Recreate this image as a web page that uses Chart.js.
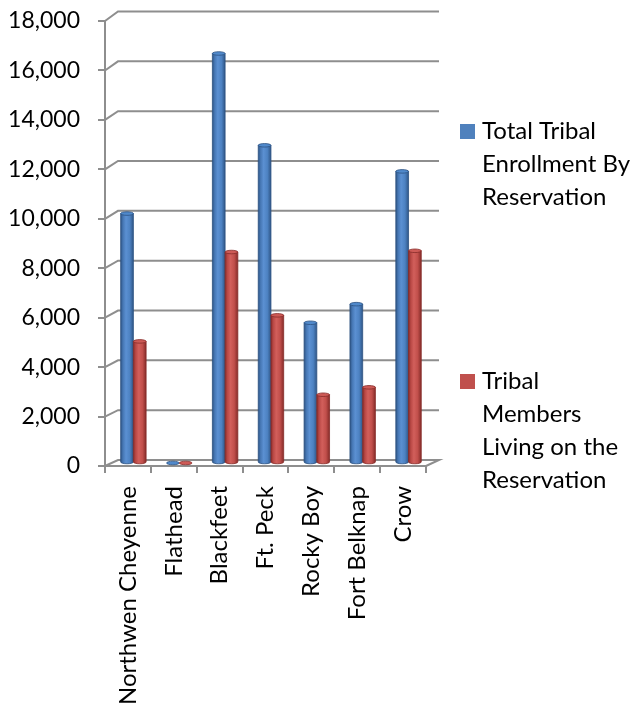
<!DOCTYPE html>
<html>
<head>
<meta charset="utf-8">
<script src="https://cdn.jsdelivr.net/npm/chart.js@4/dist/chart.umd.min.js"></script>
<style>
  html, body { margin: 0; padding: 0; background: #fff; }
  #wrap { width: 635px; height: 709px; }
</style>
</head>
<body>
<div id="wrap"><canvas id="c" width="635" height="709"></canvas></div>
<script>
// Reservations and their enrollment figures
const reservations = ['Northwen Cheyenne', 'Flathead', 'Blackfeet', 'Ft. Peck', 'Rocky Boy', 'Fort Belknap', 'Crow'];
const totalEnrollment = [10050, 0, 16500, 12800, 5650, 6400, 11750];
const livingOnReservation = [4900, 0, 8500, 5950, 2750, 3050, 8550];
const seriesNames = ['Total Tribal Enrollment By Reservation', 'Tribal Members Living on the Reservation'];
const yTicks = [0, 2000, 4000, 6000, 8000, 10000, 12000, 14000, 16000, 18000];

const FONT = 'Lato';
const GRID = '#8e8e8e';
const DEPTH_X = 13;                     // horizontal depth of the 3D box
function backDy(v, max) { return -6 - 3.5 * v / max; }   // vertical depth (slight perspective)

const palette = [
  { base: '#4f81bd', stops: ['#2e5585', '#4677b4', '#5b90d2', '#4d82c2', '#2f5687'], top: '#5089cb', rim: '#2c5282' },
  { base: '#c0504d', stops: ['#8a2d2a', '#b94845', '#d25f5b', '#c14f4b', '#862c29'], top: '#cd5a56', rim: '#862c29' }
];

// back wall, left wall and floor of the 3D plot box
const wallsPlugin = {
  id: 'walls3d',
  beforeDatasetsDraw(chart) {
    const { ctx, chartArea: a, scales: { y } } = chart;
    ctx.save();
    ctx.strokeStyle = GRID;
    ctx.lineWidth = 2;
    ctx.lineJoin = 'miter';
    const f0 = y.getPixelForValue(0);
    const d0 = backDy(0, y.max);
    ctx.beginPath();
    ctx.moveTo(a.left, f0);
    ctx.lineTo(a.left + DEPTH_X, f0 + d0);
    ctx.lineTo(a.right + DEPTH_X, f0 + d0);
    ctx.lineTo(a.right, f0);
    ctx.stroke();
    y.ticks.forEach(t => {
      if (t.value === 0) return;
      const fy = y.getPixelForValue(t.value);
      const by = fy + backDy(t.value, y.max);
      ctx.beginPath();
      ctx.moveTo(a.left, fy);
      ctx.lineTo(a.left + DEPTH_X, by);
      ctx.lineTo(a.right + DEPTH_X, by);
      ctx.stroke();
    });
    ctx.restore();
  }
};

// shaded cylinders in place of the flat bars
const cylinderPlugin = {
  id: 'cylinders',
  beforeDatasetDraw() { return false; },
  afterDatasetsDraw(chart) {
    const { ctx, scales: { y } } = chart;
    ctx.save();
    chart.data.datasets.forEach((ds, i) => {
      const meta = chart.getDatasetMeta(i);
      const pal = palette[i];
      meta.data.forEach((el, j) => {
        const p = el.getProps(['x', 'y', 'base', 'width'], true);
        const v = ds.data[j];
        const ox = DEPTH_X * 0.42;
        const cx = p.x + ox;
        const w = p.width;
        const left = cx - w / 2, right = cx + w / 2;
        const top = p.y + backDy(v, y.max) / 2;
        const base = p.base + backDy(0, y.max) / 2;
        const rx = w / 2, ry = Math.max(1.6, w * 0.14);
        const g = ctx.createLinearGradient(left, 0, right, 0);
        const pos = [0, 0.18, 0.42, 0.72, 1];
        pal.stops.forEach((c, k) => g.addColorStop(pos[k], c));
        // body
        if (base - top > 0.5) {
          ctx.beginPath();
          ctx.moveTo(left, top);
          ctx.lineTo(left, base);
          ctx.ellipse(cx, base, rx, ry, 0, Math.PI, 0, true);
          ctx.lineTo(right, top);
          ctx.closePath();
          ctx.fillStyle = g;
          ctx.fill();
          ctx.strokeStyle = pal.rim;
          ctx.lineWidth = 0.8;
          ctx.stroke();
        }
        // top cap
        ctx.beginPath();
        ctx.ellipse(cx, top, rx, ry, 0, 0, Math.PI * 2);
        ctx.fillStyle = pal.top;
        ctx.fill();
        ctx.strokeStyle = pal.rim;
        ctx.lineWidth = 0.8;
        ctx.stroke();
      });
    });
    ctx.restore();
  }
};

// wrapped legend at the right
const legendPlugin = {
  id: 'wrappedLegend',
  afterDraw(chart) {
    const { ctx, chartArea: a } = chart;
    ctx.save();
    ctx.font = '24px ' + FONT;
    ctx.textBaseline = 'middle';
    ctx.fillStyle = '#000';
    const boxX = a.right + DEPTH_X + 21;
    const textX = boxX + 22;
    const maxW = chart.width - textX;
    const lineH = 33;
    const firstLines = [a.top + 110, a.top + 360];
    chart.data.datasets.forEach((ds, i) => {
      const words = ds.label.split(' ');
      const lines = [];
      let cur = '';
      words.forEach(wd => {
        const test = cur ? cur + ' ' + wd : wd;
        if (ctx.measureText(test).width > maxW && cur) { lines.push(cur); cur = wd; }
        else cur = test;
      });
      if (cur) lines.push(cur);
      const y0 = firstLines[i];
      ctx.fillStyle = palette[i].base;
      ctx.fillRect(boxX, y0 - 7, 15, 15);
      ctx.fillStyle = '#000';
      lines.forEach((ln, k) => ctx.fillText(ln, textX, y0 + k * lineH));
    });
    ctx.restore();
  }
};

new Chart(document.getElementById('c'), {
  type: 'bar',
  data: {
    labels: reservations,
    datasets: [
      { label: seriesNames[0], data: totalEnrollment, backgroundColor: palette[0].base },
      { label: seriesNames[1], data: livingOnReservation, backgroundColor: palette[1].base }
    ]
  },
  options: {
    responsive: false,
    animation: false,
    devicePixelRatio: 1,
    layout: { padding: { top: 21, right: 209, bottom: 0, left: 0 } },
    datasets: { bar: { barPercentage: 1, categoryPercentage: 0.555 } },
    plugins: { legend: { display: false }, tooltip: { enabled: false } },
    scales: {
      x: {
        offset: true,
        grid: { display: true, offset: true, drawOnChartArea: false, drawTicks: true, tickLength: 7, color: GRID, lineWidth: 2 },
        border: { display: true, color: GRID, width: 2 },
        ticks: { color: '#000', font: { family: FONT, size: 24 }, minRotation: 90, maxRotation: 90, padding: 13, autoSkip: false },
        afterFit(scale) { scale.height = 243; }
      },
      y: {
        min: 0,
        max: 18000,
        afterBuildTicks(scale) { scale.ticks = yTicks.map(v => ({ value: v })); },
        // 25px tick space for the labels, but only the 7px next to the axis is drawn
        grid: { drawOnChartArea: false, drawTicks: true, tickLength: 25, tickBorderDash: [7, 40], tickBorderDashOffset: 29, color: GRID, lineWidth: 2 },
        border: { display: true, color: GRID, width: 2 },
        ticks: { color: '#000', font: { family: FONT, size: 23 }, padding: 0, callback: v => v.toLocaleString('en-US') },
        afterFit(scale) { scale.width = 105; }
      }
    }
  },
  plugins: [wallsPlugin, cylinderPlugin, legendPlugin]
});
</script>
</body>
</html>
